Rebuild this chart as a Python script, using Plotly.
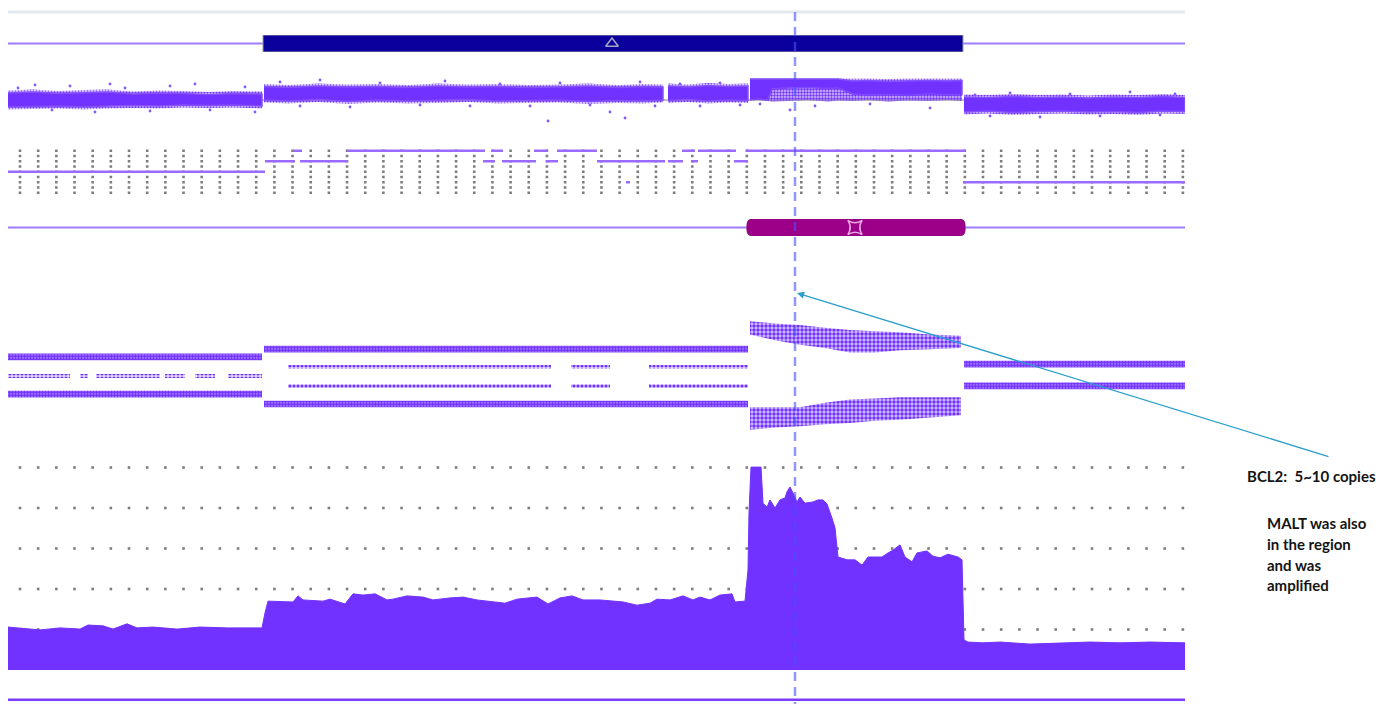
import plotly.graph_objects as go

W, H = 1396, 704
PLOT_LEFT, PLOT_RIGHT = 8, 1185  # horizontal extent of the tracks (px)

# ---------------- genomic window (Mb) ----------------
x_start, x_end = 56.00, 67.77
bcl2_pos = 63.87

# CNV call (track 1)
call_start, call_end = 58.55, 65.55
call_symbol_pos = 62.04

# LOH call (track 4)
loh_start, loh_end = 63.39, 65.57
loh_symbol_pos = 64.47

# ---------------- log2 ratio (track 2): dense band edges per segment ----------------
lr_A_x = [56.00, 56.25, 56.50, 56.75, 57.00, 57.25, 57.50, 57.75, 58.00, 58.25, 58.54]
lr_A_hi = [0.14, 0.16, 0.13, 0.15, 0.16, 0.12, 0.14, 0.13, 0.11, 0.13, 0.12]
lr_A_lo = [-0.14, -0.13, -0.12, -0.14, -0.12, -0.11, -0.12, -0.10, -0.11, -0.10, -0.12]

lr_B_x = [58.56, 58.80, 59.10, 59.40, 59.70, 60.00, 60.30, 60.60, 60.90, 61.20, 61.50, 61.80, 62.10, 62.35, 62.55]
lr_B_hi = [0.27, 0.25, 0.28, 0.26, 0.27, 0.25, 0.28, 0.26, 0.27, 0.25, 0.26, 0.28, 0.25, 0.27, 0.26]
lr_B_lo = [0.00, -0.02, 0.01, -0.03, 0.00, -0.02, -0.01, 0.01, -0.02, -0.01, 0.00, -0.03, -0.01, -0.02, 0.00]

lr_C_x = [62.60, 62.80, 63.00, 63.20, 63.40]
lr_C_hi = [0.28, 0.26, 0.29, 0.27, 0.28]
lr_C_lo = [-0.01, 0.01, -0.02, 0.00, -0.01]

lr_D_x = [63.42, 63.50, 63.60, 63.64, 63.80, 64.00, 64.20, 64.30, 64.45, 64.60, 64.80, 65.00, 65.20, 65.40, 65.54]
lr_D_hi = [0.42, 0.42, 0.42, 0.42, 0.42, 0.42, 0.42, 0.42, 0.38, 0.39, 0.37, 0.38, 0.39, 0.38, 0.39]
lr_D_lo = [0.00, 0.02, 0.00, 0.22, 0.24, 0.25, 0.23, 0.24, 0.12, 0.10, 0.11, 0.09, 0.12, 0.10, 0.11]
lr_D_floor = [0.00, 0.00, -0.02, -0.03, -0.02, 0.00, -0.03, -0.01, -0.02, 0.00, -0.03, -0.01, -0.02, 0.00, -0.02]

lr_F_x = [65.56, 65.80, 66.05, 66.30, 66.55, 66.80, 67.05, 67.30, 67.55, 67.77]
lr_F_hi = [0.06, 0.05, 0.07, 0.05, 0.06, 0.04, 0.06, 0.05, 0.07, 0.05]
lr_F_lo = [-0.24, -0.22, -0.25, -0.23, -0.22, -0.24, -0.23, -0.25, -0.22, -0.23]

# scattered log2 ratio probes outside the dense bands
lr_out_x = [56.10, 56.27, 56.44, 56.62, 56.87, 57.02, 57.17, 57.42, 57.62, 57.87, 58.02, 58.37, 58.47,
            58.72, 58.92, 59.12, 59.42, 59.72, 60.12, 60.37, 60.62, 60.92, 61.22, 61.40, 61.52, 61.82,
            62.02, 62.17, 62.32, 62.47, 62.72, 62.92, 63.12, 63.32, 63.52, 63.82, 64.07, 64.62, 65.22,
            65.67, 65.82, 66.02, 66.32, 66.62, 66.92, 67.22, 67.52, 67.67]
lr_out_y = [0.24, 0.30, -0.20, 0.28, -0.24, 0.32, 0.24, -0.22, 0.28, 0.32, -0.20, 0.26, -0.24,
            0.36, -0.12, 0.40, -0.14, 0.34, -0.10, 0.38, -0.12, 0.32, -0.12, -0.42, 0.34, -0.10,
            -0.24, -0.36, 0.36, -0.12, 0.32, -0.12, 0.34, -0.10, -0.08, -0.20, -0.12, -0.08, -0.16,
            0.10, -0.32, 0.14, -0.34, 0.12, -0.32, 0.16, -0.30, 0.12]

# ---------------- segmentation states (track 3) ----------------
seg_start = [56.00, 58.57, 58.85, 58.92, 59.39, 60.75, 60.84, 60.94, 61.26, 61.38, 61.49, 61.89,
             62.60, 62.74, 62.84, 62.90, 63.26, 63.38, 65.55, 62.18]
seg_end = [58.57, 58.87, 58.94, 59.40, 60.77, 60.87, 60.95, 61.28, 61.40, 61.50, 61.89, 62.57,
           62.75, 62.87, 62.90, 63.28, 63.40, 65.57, 67.77, 62.22]
seg_level = [4, 6, 8, 6, 8, 6, 8, 6, 8, 6, 8, 6, 6, 8, 6, 8, 6, 8, 2, 2]
state_levels = [0, 1, 2, 3, 4, 5, 6, 7, 8]

# ---------------- B-allele frequency (track 5) ----------------
baf_start = [56.00, 56.00, 56.00, 56.72, 56.88, 57.57, 57.87, 58.20,
             58.56, 58.56, 58.80, 61.63, 62.41, 58.80, 61.63, 62.41,
             65.56, 65.56]
baf_end = [58.54, 58.54, 56.62, 56.80, 57.52, 57.77, 58.07, 58.54,
           63.40, 63.40, 61.43, 62.02, 63.40, 61.43, 62.02, 63.40,
           67.77, 67.77]
baf_value = [0.670, 0.339, 0.50, 0.50, 0.50, 0.50, 0.50, 0.50,
             0.741, 0.250, 0.580, 0.580, 0.580, 0.411, 0.411, 0.411,
             0.607, 0.411]
baf_dense = [True, True, False, False, False, False, False, False,
             True, True, False, False, False, False, False, False,
             True, True]

baf_cloud_x = [63.42, 63.67, 63.92, 64.17, 64.42, 64.67, 64.92, 65.22, 65.53]
baf_up_hi = [0.99, 0.97, 0.955, 0.93, 0.91, 0.90, 0.89, 0.87, 0.86]
baf_up_lo = [0.87, 0.82, 0.78, 0.75, 0.71, 0.71, 0.73, 0.74, 0.75]
baf_dn_hi = [0.22, 0.22, 0.22, 0.26, 0.29, 0.30, 0.31, 0.31, 0.31]
baf_dn_lo = [0.02, 0.04, 0.05, 0.07, 0.08, 0.10, 0.11, 0.13, 0.15]

# ---------------- read depth / copy number (track 6) ----------------
cov_x = [56.00, 56.12, 56.32, 56.52, 56.72, 56.80, 56.95, 57.05, 57.19, 57.29, 57.45, 57.69, 57.92,
         58.19, 58.45, 58.54, 58.57, 58.60, 58.85, 58.90, 58.95, 59.15, 59.22, 59.37, 59.45, 59.55,
         59.67, 59.79, 59.85, 59.99, 60.15, 60.25, 60.42, 60.55, 60.69, 60.82, 60.97, 61.09, 61.29,
         61.40, 61.52, 61.64, 61.75, 61.92, 62.05, 62.15, 62.29, 62.42, 62.49, 62.62, 62.75, 62.85,
         62.92, 63.02, 63.12, 63.24, 63.27, 63.37, 63.40, 63.41, 63.43, 63.53, 63.55, 63.59, 63.62,
         63.67, 63.72, 63.77, 63.79, 63.82, 63.85, 63.89, 63.92, 63.97, 64.05, 64.10, 64.15, 64.19,
         64.24, 64.27, 64.30, 64.39, 64.47, 64.54, 64.60, 64.74, 64.80, 64.85, 64.92, 64.97, 65.04,
         65.09, 65.19, 65.25, 65.32, 65.40, 65.50, 65.54, 65.56, 65.60, 65.75, 65.92, 66.22, 66.52,
         66.82, 67.12, 67.42, 67.77]
cov_y = [1.06, 1.04, 0.99, 1.04, 1.01, 1.11, 1.09, 1.01, 1.14, 1.04, 1.06, 1.01, 1.06,
         1.04, 1.04, 1.04, 1.41, 1.70, 1.68, 1.83, 1.73, 1.70, 1.75, 1.63, 1.88, 1.85,
         1.88, 1.73, 1.75, 1.83, 1.80, 1.73, 1.78, 1.80, 1.73, 1.70, 1.65, 1.75, 1.80,
         1.63, 1.78, 1.83, 1.73, 1.73, 1.70, 1.68, 1.60, 1.65, 1.75, 1.73, 1.83, 1.73,
         1.80, 1.73, 1.85, 1.88, 1.68, 1.70, 2.47, 3.88, 5.01, 5.01, 4.12, 4.02, 4.20,
         4.00, 4.20, 4.25, 4.40, 4.52, 4.37, 4.15, 4.27, 4.12, 4.15, 4.20, 4.20, 4.10,
         3.75, 3.51, 2.79, 2.72, 2.72, 2.59, 2.79, 2.79, 2.89, 2.96, 3.09, 2.79, 2.67,
         2.89, 2.94, 2.81, 2.77, 2.86, 2.79, 2.72, 0.74, 0.69, 0.67, 0.69, 0.64, 0.67,
         0.69, 0.67, 0.69, 0.67]
cov_grid_levels = [1, 2, 3, 4, 5]

# dotted grid column spacing (Mb)
grid_first, grid_step, grid_count = 56.12, 0.1817, 65

# ---------------- styling ----------------
PURPLE = "#7131FF"
SEG_COLOR = "#9A6BFF"
TRACK_LINE = "#A07CFF"
DOT_GRAY = "#7d7d7d"
HALO = 0.05          # width of the sparse fringe around dense log2 bands


def tint(alpha):
    return f"rgba(113,49,255,{alpha})"


def dom(top_px, bottom_px):
    return [1 - bottom_px / H, 1 - top_px / H]


def poly(xs, hi, lo):
    return list(xs) + list(xs)[::-1], list(hi) + list(lo)[::-1]


def dots(size, solidity, back):
    # dotted texture: purple dots on a translucent purple ground
    return dict(fill="toself", fillcolor=back,
                fillpattern=dict(shape=".", fgcolor=PURPLE, bgcolor=back,
                                 size=size, solidity=solidity, fillmode="replace"))


grid_cols = [grid_first + grid_step * k for k in range(grid_count)]

fig = go.Figure()

# --- track 3: dotted state grid + segments ---
gx, gy = [], []
for lvl in state_levels:
    gx += grid_cols
    gy += [lvl] * len(grid_cols)
fig.add_trace(go.Scatter(x=gx, y=gy, yaxis="y3", mode="markers",
                         marker=dict(symbol="square", size=2.6, color=DOT_GRAY), hoverinfo="skip"))
sx, sy = [], []
for s, e, l in zip(seg_start, seg_end, seg_level):
    sx += [s, e, None]
    sy += [l, l, None]
fig.add_trace(go.Scatter(x=sx, y=sy, yaxis="y3", mode="lines",
                         line=dict(color=SEG_COLOR, width=2.5), hoverinfo="skip"))

# --- track 2: log2 ratio ---
fig.add_trace(go.Scatter(x=[x_start, x_end], y=[0, 0], yaxis="y2", mode="lines",
                         line=dict(color="#a9a9a9", width=1.5), hoverinfo="skip"))
bands = [(lr_A_x, lr_A_hi, lr_A_lo), (lr_B_x, lr_B_hi, lr_B_lo), (lr_C_x, lr_C_hi, lr_C_lo),
         (lr_D_x, lr_D_hi, lr_D_lo), (lr_F_x, lr_F_hi, lr_F_lo)]
for xs, hi, lo in bands:
    # sparse fringe above and below each dense band
    top_edge = [min(v + HALO, 0.43) for v in hi]
    px_, py_ = poly(xs, top_edge, hi)
    fig.add_trace(go.Scatter(x=px_, y=py_, yaxis="y2", mode="none", hoverinfo="skip",
                             **dots(3, 0.45, tint(0.15))))
    if xs is not lr_D_x:
        px_, py_ = poly(xs, lo, [v - HALO for v in lo])
        fig.add_trace(go.Scatter(x=px_, y=py_, yaxis="y2", mode="none", hoverinfo="skip",
                                 **dots(3, 0.45, tint(0.15))))
    px_, py_ = poly(xs, hi, lo)
    fig.add_trace(go.Scatter(x=px_, y=py_, yaxis="y2", mode="lines", fill="toself",
                             fillcolor=PURPLE, line=dict(color="#8450ff", width=1.5),
                             hoverinfo="skip"))
px_, py_ = poly(lr_D_x, lr_D_lo, lr_D_floor)
fig.add_trace(go.Scatter(x=px_, y=py_, yaxis="y2", mode="none", hoverinfo="skip",
                         **dots(3, 0.5, tint(0.3))))
fig.add_trace(go.Scatter(x=lr_out_x, y=lr_out_y, yaxis="y2", mode="markers",
                         marker=dict(size=2.8, color="#8656ff"), hoverinfo="skip"))

# --- track 5: B-allele frequency ---
for s, e, v, d in zip(baf_start, baf_end, baf_value, baf_dense):
    hw = 0.03 if d else 0.018
    style = dots(3, 0.7, tint(0.55)) if d else dots(4, 0.5, tint(0.16))
    fig.add_trace(go.Scatter(x=[s, e, e, s], y=[v + hw, v + hw, v - hw, v - hw], yaxis="y5",
                             mode="none", hoverinfo="skip", **style))
for hi, lo in [(baf_up_hi, baf_up_lo), (baf_dn_hi, baf_dn_lo)]:
    px_, py_ = poly(baf_cloud_x, hi, lo)
    fig.add_trace(go.Scatter(x=px_, y=py_, yaxis="y5", mode="none", hoverinfo="skip",
                             **dots(4, 0.55, tint(0.3))))

# --- track 6: coverage ---
cgx, cgy = [], []
for lvl in cov_grid_levels:
    cgx += grid_cols
    cgy += [lvl] * len(grid_cols)
fig.add_trace(go.Scatter(x=cgx, y=cgy, yaxis="y6", mode="markers",
                         marker=dict(symbol="square", size=2.6, color=DOT_GRAY), hoverinfo="skip"))
fig.add_trace(go.Scatter(x=cov_x, y=cov_y, yaxis="y6", mode="lines", fill="tozeroy",
                         fillcolor=PURPLE, line=dict(color=PURPLE, width=1), hoverinfo="skip"))

# --- track 7: bottom probe row ---
fig.add_trace(go.Scatter(x=[x_start, x_end], y=[0.3, 0.3], yaxis="y7", mode="lines",
                         line=dict(color="#7a3dff", width=2.5), hoverinfo="skip"))

# --- track symbols ---
fig.add_trace(go.Scatter(x=[call_symbol_pos], y=[0.5], yaxis="y", mode="markers",
                         marker=dict(symbol="triangle-up-open", size=11, color="#a3a3c2",
                                     line=dict(width=1.6, color="#a3a3c2")), hoverinfo="skip"))
fig.add_trace(go.Scatter(x=[loh_symbol_pos], y=[0.5], yaxis="y4", mode="markers",
                         marker=dict(symbol="star-square-open", size=13, color="#e9a6df",
                                     line=dict(width=1.6, color="#e9a6df")), hoverinfo="skip"))

shapes = []
# top separator
shapes.append(dict(type="line", xref="x", yref="paper", x0=x_start, x1=x_end,
                   y0=1 - 12 / H, y1=1 - 12 / H, line=dict(color="#e2e9ef", width=3), layer="below"))
# track 1 guide line + call bar
for a, b in [(x_start, call_start), (call_end, x_end)]:
    shapes.append(dict(type="line", xref="x", yref="y", x0=a, x1=b, y0=0.5, y1=0.5,
                       line=dict(color=TRACK_LINE, width=2), layer="below"))
shapes.append(dict(type="rect", xref="x", yref="y", x0=call_start, x1=call_end, y0=0, y1=1,
                   fillcolor="#0b009c", line=dict(color="#9c9c9c", width=1), layer="below"))
# track 4 guide line + LOH bar (rounded)
for a, b in [(x_start, loh_start), (loh_end, x_end)]:
    shapes.append(dict(type="line", xref="x", yref="y4", x0=a, x1=b, y0=0.5, y1=0.5,
                       line=dict(color=TRACK_LINE, width=2), layer="below"))
rx, ry = 0.06, 0.35
x0, x1 = loh_start, loh_end
path = (f"M {x0 + rx},0 L {x1 - rx},0 Q {x1},0 {x1},{ry} L {x1},{1 - ry} Q {x1},1 {x1 - rx},1 "
        f"L {x0 + rx},1 Q {x0},1 {x0},{1 - ry} L {x0},{ry} Q {x0},0 {x0 + rx},0 Z")
shapes.append(dict(type="path", xref="x", yref="y4", path=path, fillcolor="#9c0088",
                   line=dict(color="#8a0078", width=1), layer="below"))
# BCL2 position marker
shapes.append(dict(type="line", xref="x", yref="paper", x0=bcl2_pos, x1=bcl2_pos,
                   y0=1 - 12 / H, y1=0, line=dict(color="rgba(70,80,255,0.6)", width=2.5, dash="9px,6px"),
                   layer="above"))

TEXT_FONT = dict(family="Lato, 'Open Sans', sans-serif", size=15, color="#141414", weight="bold")
annotations = [
    dict(x=bcl2_pos + 0.02, y=1 - 293 / H, xref="x", yref="paper",
         ax=533, ay=164, axref="pixel", ayref="pixel", text="", showarrow=True,
         arrowhead=2, arrowsize=1.1, arrowwidth=1.3, arrowcolor="#2b9ecb", standoff=0),
    dict(x=1245 / W, y=1 - 476 / H, xref="paper", yref="paper", xanchor="left", yanchor="middle",
         text="BCL2:\u00a0 5~10 copies", showarrow=False, font=TEXT_FONT),
]
for txt, yc in [("MALT was also", 523), ("in the region", 544), ("and was", 564.5), ("amplified", 585)]:
    annotations.append(dict(x=1265 / W, y=1 - yc / H, xref="paper", yref="paper", xanchor="left",
                            yanchor="middle", text=txt, showarrow=False, font=TEXT_FONT))

hidden = dict(visible=False, showgrid=False, zeroline=False, fixedrange=True)
fig.update_layout(
    width=W, height=H, margin=dict(l=0, r=0, t=0, b=0),
    paper_bgcolor="white", plot_bgcolor="rgba(0,0,0,0)", showlegend=False,
    xaxis=dict(domain=[PLOT_LEFT / W, PLOT_RIGHT / W], range=[x_start, x_end], **hidden),
    yaxis=dict(domain=dom(35, 52), range=[0, 1], anchor="x", **hidden),
    yaxis2=dict(domain=dom(55, 145), range=[-0.9, 0.9], anchor="x", **hidden),
    yaxis3=dict(domain=dom(148.1, 195.3), range=[-0.5, 8.5], anchor="x", **hidden),
    yaxis4=dict(domain=dom(219, 236), range=[0, 1], anchor="x", **hidden),
    yaxis5=dict(domain=dom(316, 436), range=[-0.036, 1.036], anchor="x", **hidden),
    yaxis6=dict(domain=dom(455, 670), range=[0, 5.309], anchor="x", **hidden),
    yaxis7=dict(domain=dom(690, 704), range=[0, 1], anchor="x", **hidden),
    shapes=shapes, annotations=annotations,
)

fig.write_html("out.html")
